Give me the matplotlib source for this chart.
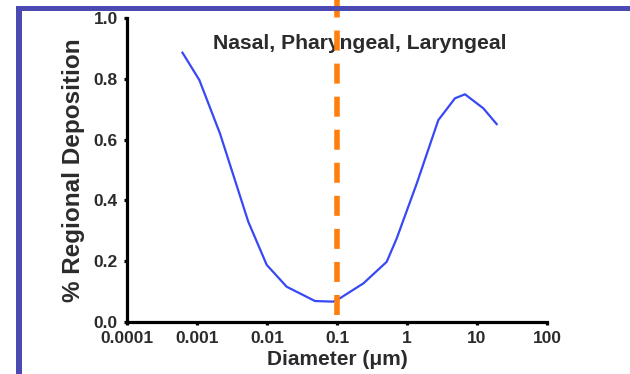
import matplotlib
matplotlib.use("Agg")
import matplotlib.pyplot as plt
from matplotlib.patches import Rectangle
from matplotlib.lines import Line2D

# deposition curve
diameter = [0.00062, 0.00108, 0.00213, 0.00313, 0.0054, 0.0099, 0.0191,
            0.0485, 0.0885, 0.110, 0.238, 0.513, 0.713, 1.38, 2.80,
            4.85, 6.74, 12.3, 19.1]
deposition = [0.886, 0.796, 0.620, 0.500, 0.330, 0.188, 0.116,
              0.069, 0.067, 0.078, 0.127, 0.198, 0.275, 0.456, 0.664,
              0.736, 0.749, 0.703, 0.651]
cutoff = 0.1

x_ticks = [1e-4, 1e-3, 1e-2, 1e-1, 1, 10, 100]
x_labels = ["0.0001", "0.001", "0.01", "0.1", "1", "10", "100"]
y_ticks = [0.0, 0.2, 0.4, 0.6, 0.8, 1.0]
y_labels = ["0.0", "0.2", "0.4", "0.6", "0.8", "1.0"]

plt.rcParams["font.family"] = ["Liberation Sans", "DejaVu Sans"]
text_col = "#2b2b2b"

fig = plt.figure(figsize=(6.3, 3.74), dpi=100)
ax = fig.add_axes([127 / 630, 1 - 322 / 374, 420 / 630, 304 / 374])

ax.plot(diameter, deposition, color="#3848f5", lw=1.6, zorder=3)
ax.axvline(cutoff, ymin=0.023, ymax=1.07, color="#ff7f0e", lw=4,
           dashes=(3.6, 2.35), clip_on=False, zorder=10)

ax.set_xscale("log")
ax.set_xlim(1e-4, 100)
ax.set_ylim(0, 1)
ax.set_xticks(x_ticks)
ax.set_xticklabels(x_labels)
ax.set_yticks(y_ticks)
ax.set_yticklabels(y_labels)
ax.minorticks_off()

for s in ["top", "right"]:
    ax.spines[s].set_visible(False)
for s in ["left", "bottom"]:
    ax.spines[s].set_linewidth(2.3)
ax.tick_params(length=2.5, width=2.3, colors="black", labelcolor=text_col,
               labelsize=12.5, pad=4)
for lab in ax.get_xticklabels() + ax.get_yticklabels():
    lab.set_fontweight("bold")

ax.set_xlabel("Diameter (\u03bcm)", fontsize=15, fontweight="bold",
              color=text_col, labelpad=3)
ax.set_ylabel("% Regional Deposition", fontsize=17.5, fontweight="bold",
              color=text_col, labelpad=6)
ax.text(0.555, 0.915, "Nasal, Pharyngeal, Laryngeal", transform=ax.transAxes,
        ha="center", va="center", fontsize=15.2, fontweight="bold",
        color=text_col)

# slide frame
frame = "#4a4ab2"
fig.add_artist(Rectangle((16 / 630, 1 - 11 / 374), 1, 5 / 374,
                         transform=fig.transFigure, color=frame, lw=0, zorder=5))
fig.add_artist(Rectangle((16 / 630, 0), 6 / 630, 1 - 6 / 374,
                         transform=fig.transFigure, color=frame, lw=0, zorder=5))
fig.add_artist(Line2D([629.5 / 630] * 2, [0, 1 - 11 / 374],
                      transform=fig.transFigure, color="#e2e2e2", lw=0.8))
fig.add_artist(Line2D([22 / 630, 1], [0.5 / 374] * 2,
                      transform=fig.transFigure, color="#e2e2e2", lw=0.8))

fig.savefig("out.png", dpi=100)
